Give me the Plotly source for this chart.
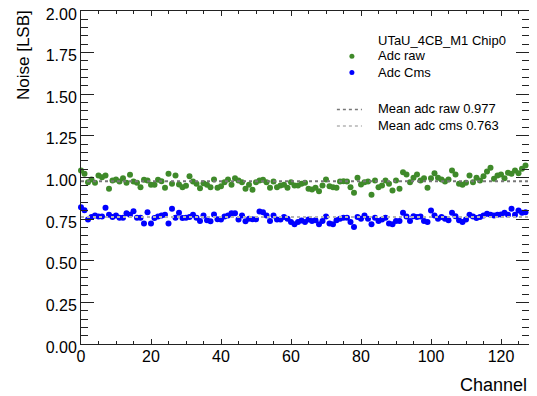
import plotly.graph_objects as go

channels = list(range(128))

adc_raw = [
    1.042, 1.022, 0.972, 0.988, 0.968, 1.012, 1.002, 1.012, 0.932, 0.982,
    0.988, 0.976, 0.996, 0.968, 1.016, 0.976, 0.968, 0.942, 0.986, 0.982,
    0.956, 0.956, 0.986, 0.978, 0.938, 1.022, 0.962, 1.012, 0.958, 0.942,
    0.950, 1.008, 0.976, 0.962, 0.936, 0.966, 0.956, 0.942, 0.988, 0.938,
    0.948, 0.972, 0.988, 0.956, 0.996, 0.982, 0.972, 0.932, 0.956, 0.926,
    0.972, 0.982, 0.986, 0.972, 0.938, 0.976, 0.942, 0.952, 0.956, 0.938,
    0.972, 0.952, 0.952, 0.962, 0.968, 0.932, 0.928, 0.938, 0.918, 0.952,
    0.988, 0.948, 0.942, 0.938, 0.976, 0.978, 0.976, 0.942, 0.908, 0.998,
    0.958, 0.972, 0.976, 0.896, 0.982, 0.942, 0.952, 0.982, 0.962, 0.922,
    0.982, 0.932, 1.032, 1.018, 0.972, 0.998, 1.018, 0.982, 0.996, 0.938,
    0.996, 1.026, 0.998, 0.988, 0.976, 0.988, 1.042, 1.018, 0.962, 0.956,
    0.968, 1.012, 0.972, 0.998, 0.982, 1.008, 1.036, 1.058, 0.992, 1.012,
    1.018, 0.996, 1.028, 1.022, 1.042, 1.026, 1.052, 1.072,
]

adc_cms = [
    0.822, 0.803, 0.747, 0.763, 0.772, 0.766, 0.766, 0.818, 0.776, 0.763,
    0.772, 0.759, 0.759, 0.786, 0.776, 0.798, 0.759, 0.759, 0.723, 0.792,
    0.723, 0.757, 0.766, 0.772, 0.776, 0.723, 0.812, 0.759, 0.788, 0.757,
    0.759, 0.763, 0.776, 0.759, 0.739, 0.772, 0.743, 0.737, 0.778, 0.749,
    0.747, 0.766, 0.772, 0.786, 0.786, 0.747, 0.772, 0.737, 0.753, 0.749,
    0.749, 0.796, 0.792, 0.772, 0.739, 0.772, 0.747, 0.747, 0.763, 0.753,
    0.733, 0.719, 0.733, 0.741, 0.733, 0.747, 0.739, 0.743, 0.719, 0.739,
    0.766, 0.723, 0.719, 0.743, 0.753, 0.759, 0.759, 0.733, 0.703, 0.763,
    0.753, 0.772, 0.753, 0.719, 0.759, 0.739, 0.747, 0.759, 0.723, 0.719,
    0.739, 0.739, 0.788, 0.766, 0.739, 0.768, 0.763, 0.766, 0.739, 0.733,
    0.802, 0.772, 0.753, 0.763, 0.753, 0.743, 0.788, 0.768, 0.743, 0.733,
    0.747, 0.776, 0.766, 0.757, 0.763, 0.772, 0.782, 0.776, 0.772, 0.776,
    0.778, 0.788, 0.776, 0.812, 0.776, 0.802, 0.788, 0.792,
]

mean_raw = 0.977
mean_cms = 0.763
x_range = [0, 128]
chip_label = "UTaU_4CB_M1 Chip0"
name_raw = "Adc raw"
name_cms = "Adc Cms"
name_mean_raw = f"Mean adc raw {mean_raw:.3f}"
name_mean_cms = f"Mean adc cms {mean_cms:.3f}"

FONT = "Liberation Sans, Arial, Helvetica, sans-serif"
GREEN = "#3f8a2a"
BLUE = "#0000ff"
GRAY_RAW = "#777777"
GRAY_CMS = "#b4b4b4"

fig = go.Figure()
fig.add_trace(go.Scatter(
    x=channels, y=adc_raw, mode="markers", name=name_raw,
    marker=dict(color=GREEN, size=6), cliponaxis=False))
fig.add_trace(go.Scatter(
    x=channels, y=adc_cms, mode="markers", name=name_cms,
    marker=dict(color=BLUE, size=6), cliponaxis=False))
fig.add_trace(go.Scatter(
    x=x_range, y=[mean_raw, mean_raw], mode="lines", name=name_mean_raw,
    line=dict(color=GRAY_RAW, width=2, dash="dot")))
fig.add_trace(go.Scatter(
    x=x_range, y=[mean_cms, mean_cms], mode="lines", name=name_mean_cms,
    line=dict(color=GRAY_CMS, width=2, dash="dot")))

axis_common = dict(
    showgrid=False, zeroline=False, showline=True, linecolor="#222222",
    linewidth=1, ticks="inside", mirror="allticks", tickcolor="#222222",
    tickwidth=1, tickfont=dict(family=FONT, size=16, color="black"),
    automargin=False, ticklabeloverflow="allow",
)

fig.update_xaxes(
    range=x_range, tick0=0, dtick=20, ticklen=5, ticklabelstandoff=-2,
    minor=dict(dtick=5, ticklen=3, ticks="inside", tickcolor="#222222"),
    **axis_common)
fig.update_yaxes(
    range=[0, 2], tick0=0, dtick=0.25, tickformat=".2f", ticklen=13,
    ticklabelshift=3,
    minor=dict(dtick=0.05, ticklen=7, ticks="inside", tickcolor="#222222"),
    **axis_common)

# axis titles
fig.add_annotation(
    text="Channel", xref="paper", yref="paper", x=1.0, y=0, xanchor="right",
    yanchor="top", yshift=-29, xshift=0, showarrow=False,
    font=dict(family=FONT, size=18, color="black"))
fig.add_annotation(
    text="Noise [LSB]", xref="paper", yref="paper", x=0, y=1, xanchor="center",
    yanchor="top", xshift=-58, yshift=3, textangle=-90, showarrow=False,
    font=dict(family=FONT, size=17, color="black"))

# hand-placed legend (ROOT TLegend style)
leg_text_x = 0.6578
leg_rows = [
    (chip_label, 0.9113),
    (name_raw, 0.8663),
    (name_cms, 0.8148),
    (name_mean_raw, 0.7074),
    (name_mean_cms, 0.6574),
]
for txt, yy in leg_rows:
    fig.add_annotation(
        text=txt, xref="paper", yref="paper", x=leg_text_x, y=yy,
        xanchor="left", yanchor="middle", showarrow=False,
        font=dict(family=FONT, size=13, color="black"))

mk_x = 0.6047
for col, yy in [(GREEN, 0.8642), (BLUE, 0.8153)]:
    fig.add_shape(
        type="circle", xref="paper", yref="paper", xsizemode="pixel",
        ysizemode="pixel", xanchor=mk_x, yanchor=yy, x0=-2.5, x1=2.5,
        y0=-2.5, y1=2.5, fillcolor=col, line=dict(width=0))
for col, yy in [(GRAY_RAW, 0.7044), (GRAY_CMS, 0.6544)]:
    fig.add_shape(
        type="line", xref="paper", yref="paper", x0=0.5712, x1=0.6270,
        y0=yy, y1=yy, line=dict(color=col, width=1.5, dash="dot"))

fig.update_layout(
    width=521, height=396,
    margin=dict(l=72.5, r=0, t=2.7, b=59.7),
    paper_bgcolor="white", plot_bgcolor="white",
    font=dict(family=FONT, color="black"),
    showlegend=False,
)

fig.write_html("out.html")
